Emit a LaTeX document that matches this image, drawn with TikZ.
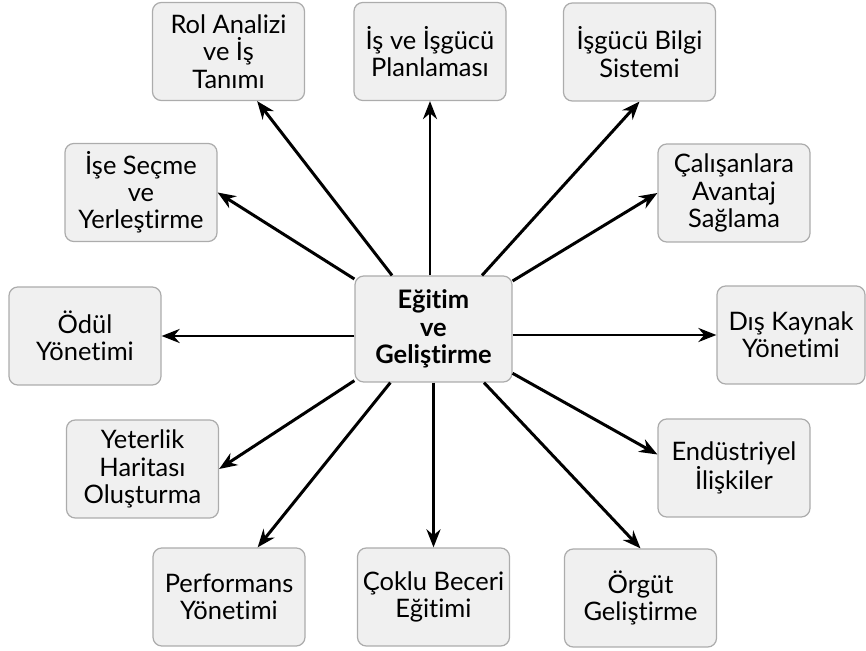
\documentclass[tikz,border=0pt]{standalone}
\usepackage{fontspec}
\setmainfont{Lato}[Ligatures=NoCommon]
\usetikzlibrary{arrows.meta,positioning,calc}

\begin{document}
\begin{tikzpicture}[
  box/.style={draw=gray!65,fill=gray!12,line width=0.7pt,rounded corners=5pt,minimum width=3.04cm,minimum height=1.96cm,align=center,inner sep=2pt,font=\fontsize{14.5}{15.5}\selectfont},
  hubbox/.style={box,minimum width=3.14cm,minimum height=2.12cm,font=\fontsize{14.5}{15.5}\selectfont\bfseries},
  arr/.style={-{Stealth[length=3.6mm,width=2.8mm]},line width=1.7pt,black}]
  \useasboundingbox (0,0) rectangle (17.32,13.02);
  \node[hubbox] (hub) at (8.67,6.44) {Eğitim\\ve\\Geliştirme};
  % top row
  \node[box] (rol) at (4.57,11.99) {Rol Analizi\\ve İş\\Tanımı};
  \node[box] (plan) at (8.60,11.99) {İş ve İşgücü\\Planlaması};
  \node[box] (bilgi) at (12.79,11.98) {İşgücü Bilgi\\Sistemi};
  % left and right
  \node[box] (ise) at (2.82,9.17) {İşe Seçme\\ve\\Yerleştirme};
  \node[box] (avantaj) at (14.68,9.16) {Çalışanlara\\Avantaj\\Sağlama};
  \node[box] (odul) at (1.70,6.30) {Ödül\\Yönetimi};
  \node[box,minimum width=2.96cm] (dis) at (15.82,6.32) {Dış Kaynak\\Yönetimi};
  \node[box] (yeter) at (2.85,3.64) {Yeterlik\\Haritası\\Oluşturma};
  \node[box] (endus) at (14.68,3.66) {Endüstriyel\\İlişkiler};
  % bottom row
  \node[box] (perf) at (4.58,1.08) {Performans\\Yönetimi};
  \node[box] (coklu) at (8.67,1.08) {Çoklu Beceri\\Eğitimi};
  \node[box] (orgut) at (12.81,1.06) {Örgüt\\Geliştirme};
  \draw[arr] (hub) -- (rol.-60);
  \draw[arr] (hub.north -| plan.south) -- (plan.south);
  \draw[arr] (hub) -- (bilgi.south);
  \draw[arr] (hub) -- (ise.east);
  \draw[arr] (hub) -- (avantaj.west);
  \draw[arr] (hub.west |- odul.east) -- (odul.east);
  \draw[arr] (hub.east |- dis.west) -- (dis.west);
  \draw[arr] (hub) -- (yeter.east);
  \draw[arr] (hub) -- (endus.170);
  \draw[arr] (hub) -- (perf.60);
  \draw[arr] (hub) -- (coklu.north);
  \draw[arr] (hub) -- (orgut.north);
\end{tikzpicture}
\end{document}
